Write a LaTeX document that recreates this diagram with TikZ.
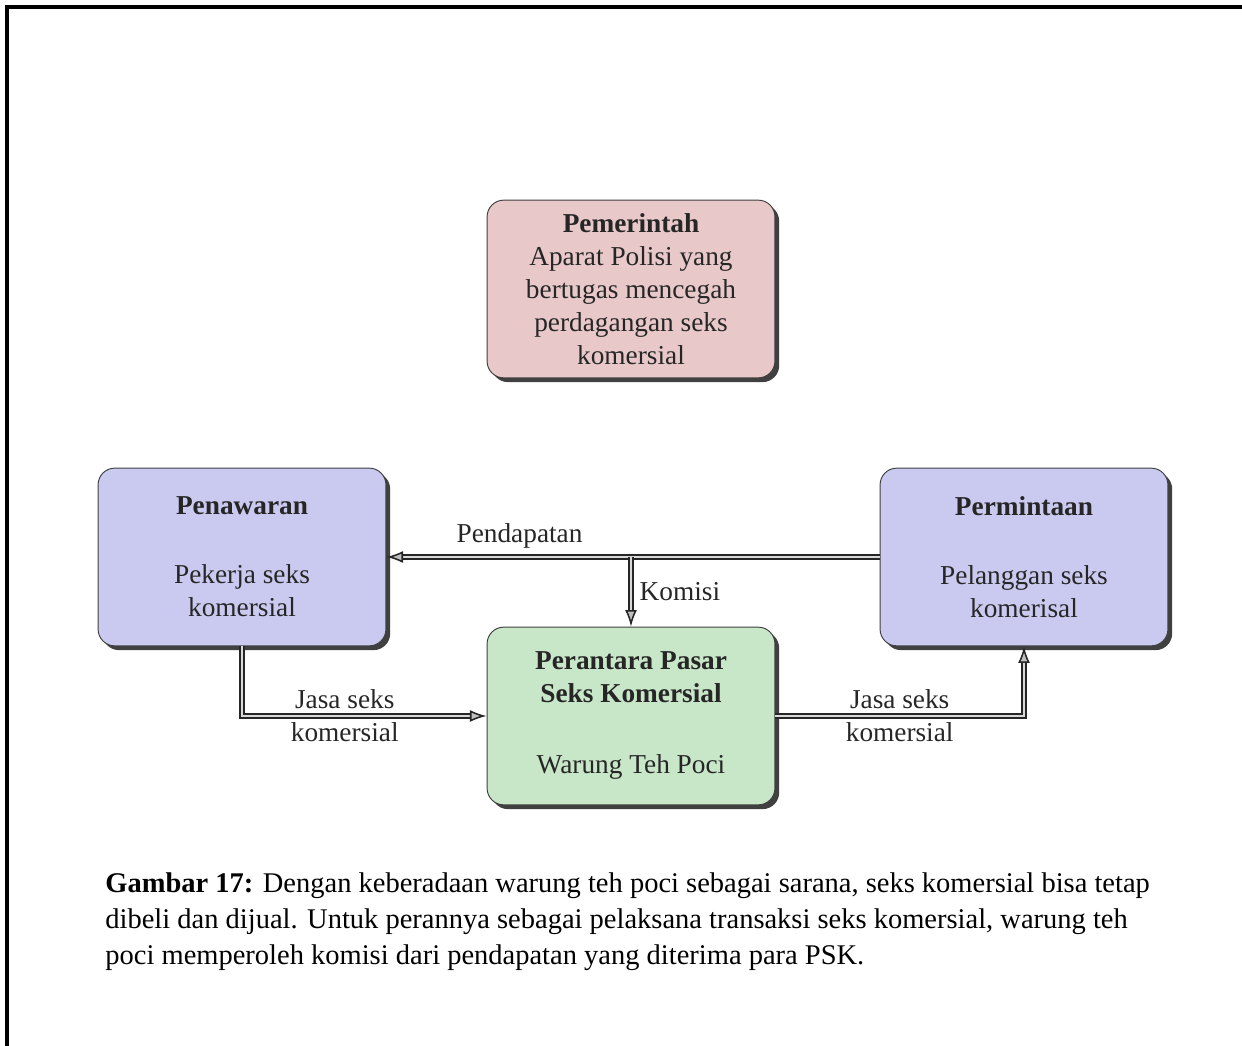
\documentclass[tikz,border=0pt]{standalone}
\usepackage{fontspec}
\setmainfont{Liberation Serif}
\usetikzlibrary{arrows.meta,shadows}
\begin{document}
\begin{tikzpicture}[x=0.0148cm,y=-0.0148cm]
\tikzstyle{bx} = [draw=black!75,rounded corners=7pt,minimum width=4.26cm,minimum height=2.63cm,align=center,text=black!85,font=\fontsize{11.5}{13.9}\selectfont,drop shadow={shadow xshift=1.8pt,shadow yshift=-1.8pt,fill=black!75,opacity=1}] %box
\tikzstyle{ar} = [draw=black!85,line width=0.65pt,double=gray!30,double distance=1.1pt,-{Latex[length=7pt,width=5pt,fill=gray!50]}] %arrow
\tikzstyle{lb} = [font=\fontsize{11.5}{13.9}\selectfont,text=black!85] %label
\useasboundingbox (0,0) rectangle (1242,1046);
\draw[line width=1.8pt] (7,1046) -- (7,7) -- (1242,7);
\node[bx,fill={rgb,255:red,232;green,200;blue,200}](pem)at(631,289){\textbf{Pemerintah}\\Aparat Polisi yang\\bertugas mencegah\\perdagangan seks\\komersial};
\node[bx,fill={rgb,255:red,202;green,202;blue,240}](pen)at(242,557){\textbf{Penawaran}\\[15pt]Pekerja seks\\komersial};
\node[bx,fill={rgb,255:red,202;green,202;blue,240}](mnt)at(1024,557){\textbf{Permintaan}\\[15pt]Pelanggan seks\\komerisal};
\node[bx,fill={rgb,255:red,200;green,230;blue,200}](ant)at(631,716){\textbf{Perantara Pasar}\\\textbf{Seks Komersial}\\[16pt]Warung Teh Poci};
\draw[ar](mnt.west)--node[lb,above,pos=0.73]{Pendapatan}(pen.east);
\draw[ar](pen.east -| ant.north)--node[lb,right]{Komisi}(ant.north);
\draw[ar](pen.south)|-node[lb,align=center,pos=0.71]{Jasa seks\\komersial}(ant.west);
\draw[ar](ant.east)-|node[lb,align=center,pos=0.25]{Jasa seks\\komersial}(mnt.south);
\node[anchor=north west,align=left,font=\fontsize{12}{15.2}\selectfont](cap)at(97,864){\textbf{Gambar 17:} Dengan keberadaan warung teh poci sebagai sarana, seks komersial bisa tetap\\dibeli dan dijual. Untuk perannya sebagai pelaksana transaksi seks komersial, warung teh\\poci memperoleh komisi dari pendapatan yang diterima para PSK.};
\end{tikzpicture}
\end{document}
